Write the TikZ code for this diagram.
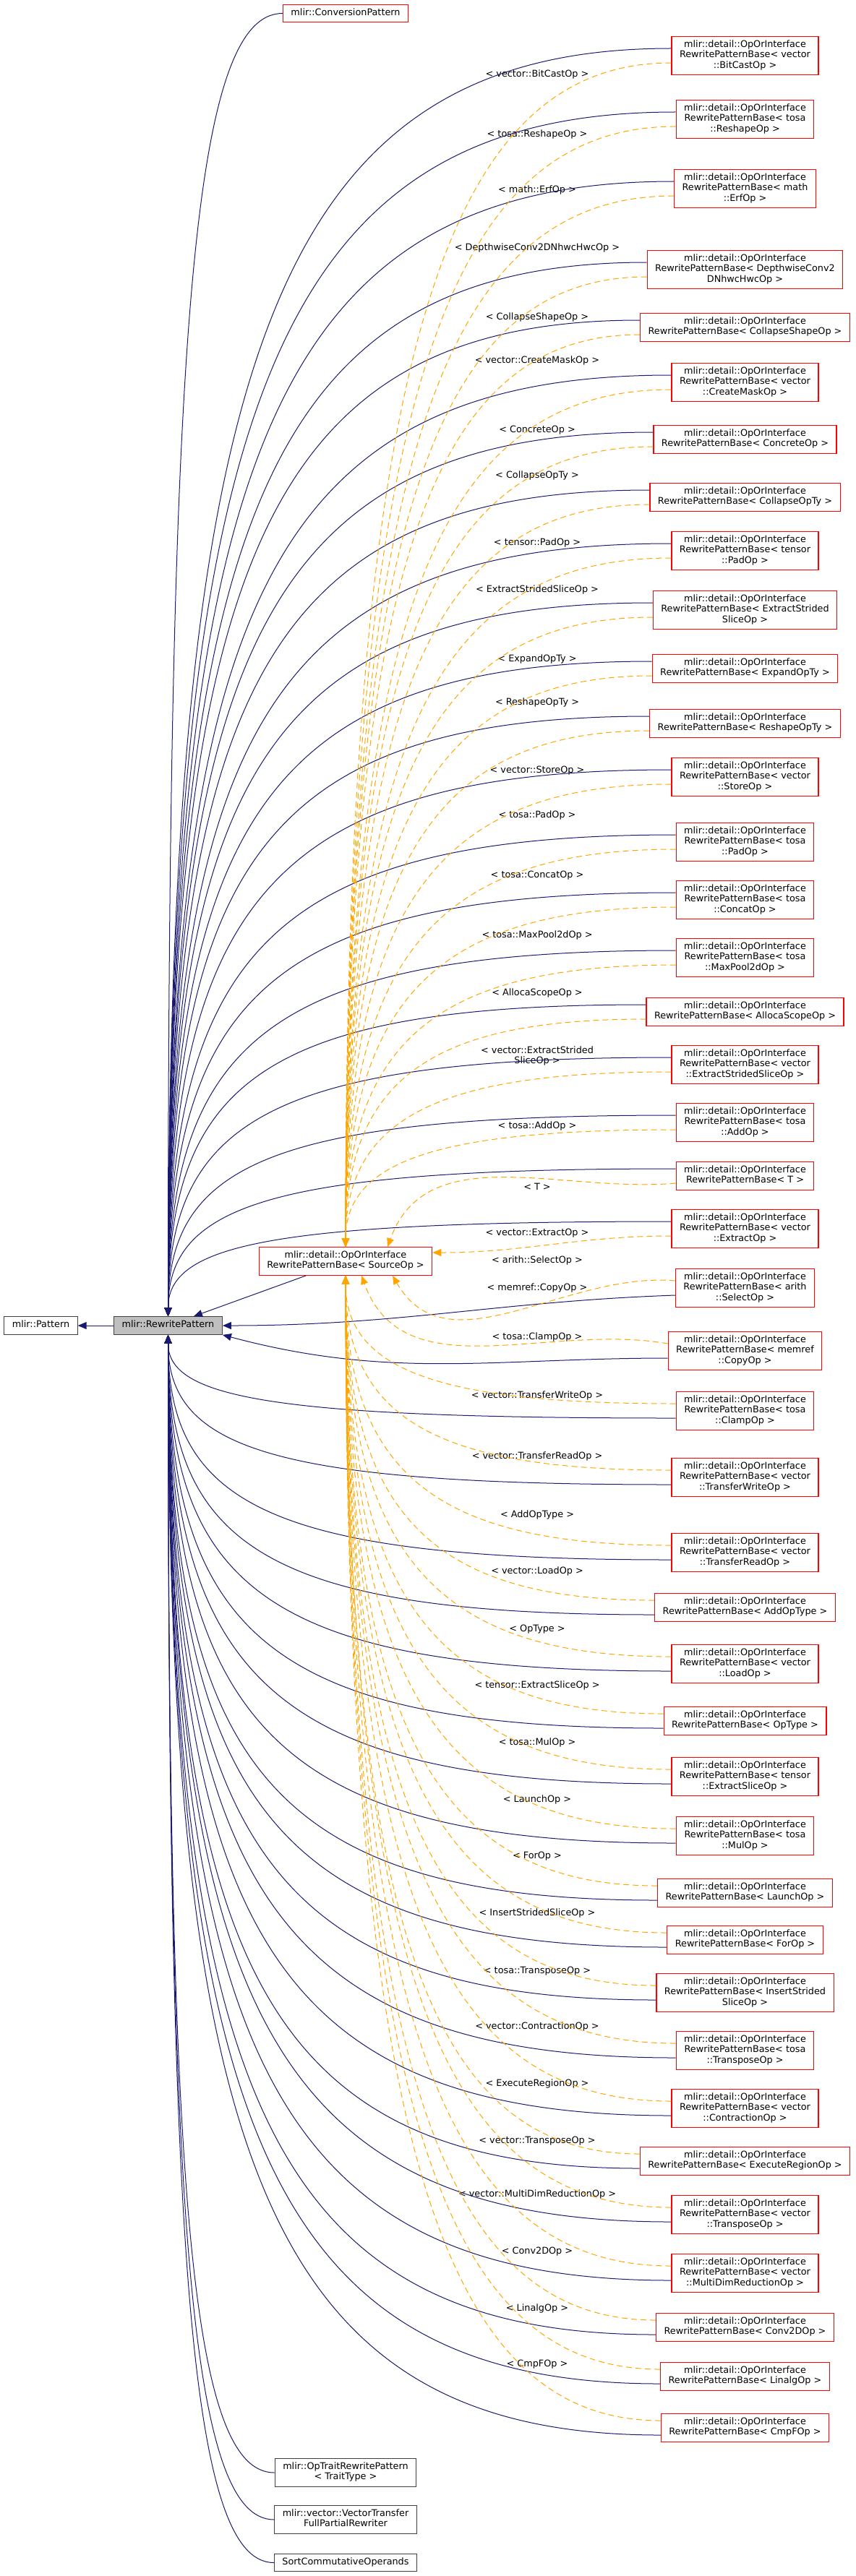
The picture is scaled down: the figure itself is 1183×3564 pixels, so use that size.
\documentclass[tikz,border=0pt]{standalone}
\usepackage{fontspec}
\setmainfont{DejaVu Sans}
\usetikzlibrary{calc, arrows.meta, positioning}

\definecolor{edgeblue}{HTML}{191970}
\definecolor{edgeorange}{HTML}{FFA500}
\definecolor{boxred}{HTML}{FF0000}
\definecolor{boxgray}{HTML}{404040}
\definecolor{basefill}{HTML}{BFBFBF}

\tikzset{
  every node/.style={font=\fontsize{12.8}{14.5}\selectfont},
  clsbox/.style={draw=boxgray, line width=1.2pt, fill=white, align=center,
    inner xsep=11pt, inner ysep=5pt,
    execute at begin node=\strut, execute at end node=\strut},
  tmplbox/.style={clsbox, draw=boxred},
  basebox/.style={clsbox, fill=basefill},
  edgelbl/.style={align=center, inner sep=1pt},
  inh/.style={color=edgeblue, line width=1pt, -{Triangle[length=12pt,width=10pt]}},
  inst/.style={color=edgeorange, line width=1pt, dash pattern=on 8pt off 5pt,
    -{Triangle[length=12pt,width=10pt]}},
}

\begin{document}
\begin{tikzpicture}[x=1pt,y=1pt]
    % Define dimensions
    \def\colx{1030.5}
    \def\lblx{743}
    \def\midx{478}
    \useasboundingbox (0,0) rectangle (1183,-3564);

    % Base classes on the left
    \node[clsbox] (pattern) at (56.5,-1834) {mlir::Pattern};
    \node[basebox] (rp) at (232.5,-1834) {mlir::RewritePattern};
    \node[tmplbox] (src) at (\midx,-1745) {mlir::detail::OpOrInterface\\RewritePatternBase< SourceOp >};
    \node[tmplbox] (conv) at (\midx,-18.5) {mlir::ConversionPattern};
    \node[clsbox] (traitpat) at (\midx,-3421) {mlir::OpTraitRewritePattern\\< TraitType >};
    \node[clsbox] (fullpartial) at (\midx,-3486) {mlir::vector::VectorTransfer\\FullPartialRewriter};
    \node[clsbox] (sortops) at (\midx,-3545.5) {SortCommutativeOperands};

    % Template instances on the right, with their edge labels
    \foreach \nm/\yy/\ly/\bt/\lt in {
        bitcast/77/103/{vector\\::BitCastOp}/{vector::BitCastOp},
        tosareshape/165/186/{tosa\\::ReshapeOp}/{tosa::ReshapeOp},
        erf/261/263/{math\\::ErfOp}/{math::ErfOp},
        dwconv/373/343/{DepthwiseConv2\\DNhwcHwcOp}/{DepthwiseConv2DNhwcHwcOp},
        collapseshape/453/439/{CollapseShapeOp}/{CollapseShapeOp},
        createmask/529/499/{vector\\::CreateMaskOp}/{vector::CreateMaskOp},
        concrete/608/595/{ConcreteOp}/{ConcreteOp},
        collapseopty/688/658/{CollapseOpTy}/{CollapseOpTy},
        tensorpad/762/751/{tensor\\::PadOp}/{tensor::PadOp},
        extractstrided/844/816/{ExtractStrided\\SliceOp}/{ExtractStridedSliceOp},
        expandopty/925/912/{ExpandOpTy}/{ExpandOpTy},
        reshapeopty/1001/972/{ReshapeOpTy}/{ReshapeOpTy},
        vstore/1075/1066/{vector\\::StoreOp}/{vector::StoreOp},
        tosapad/1165/1128/{tosa\\::PadOp}/{tosa::PadOp},
        tosaconcat/1245/1211/{tosa\\::ConcatOp}/{tosa::ConcatOp},
        maxpool/1325/1294/{tosa\\::MaxPool2dOp}/{tosa::MaxPool2dOp},
        allocascope/1400/1374/{AllocaScopeOp}/{AllocaScopeOp},
        vextractstrided/1473/1461/{vector\\::ExtractStridedSliceOp}/{vector::ExtractStrided\\SliceOp},
        tosaadd/1553/1558/{tosa\\::AddOp}/{tosa::AddOp},
        tmplt/1627/1642/{T}/{T},
        vextract/1700/1706/{vector\\::ExtractOp}/{vector::ExtractOp},
        select/1782/1744/{arith\\::SelectOp}/{arith::SelectOp},
        copy/1869/1782/{memref\\::CopyOp}/{memref::CopyOp},
        clamp/1952/1850/{tosa\\::ClampOp}/{tosa::ClampOp},
        transferwrite/2044/1931/{vector\\::TransferWriteOp}/{vector::TransferWriteOp},
        transferread/2148/2015/{vector\\::TransferReadOp}/{vector::TransferReadOp},
        addoptype/2224/2096/{AddOpType}/{AddOpType},
        vload/2302/2174/{vector\\::LoadOp}/{vector::LoadOp},
        optype/2381/2254/{OpType}/{OpType},
        extractslice/2458/2332/{tensor\\::ExtractSliceOp}/{tensor::ExtractSliceOp},
        tosamul/2540/2411/{tosa\\::MulOp}/{tosa::MulOp},
        launch/2619/2490/{LaunchOp}/{LaunchOp},
        forop/2684/2568/{ForOp}/{ForOp},
        insertstrided/2757/2647/{InsertStrided\\SliceOp}/{InsertStridedSliceOp},
        tosatranspose/2837/2727/{tosa\\::TransposeOp}/{tosa::TransposeOp},
        contraction/2917/2804/{vector\\::ContractionOp}/{vector::ContractionOp},
        executeregion/2990/2883/{ExecuteRegionOp}/{ExecuteRegionOp},
        vtranspose/3064/2962/{vector\\::TransposeOp}/{vector::TransposeOp},
        multidim/3145/3036/{vector\\::MultiDimReductionOp}/{vector::MultiDimReductionOp},
        conv2d/3220/3115/{Conv2DOp}/{Conv2DOp},
        linalg/3288/3194/{LinalgOp}/{LinalgOp},
        cmpf/3359/3271/{CmpFOp}/{CmpFOp}}
    {
        \node[tmplbox] (\nm) at (\colx,-\yy) {mlir::detail::OpOrInterface\\RewritePatternBase< \bt{} >};
        \node[edgelbl] (l\nm) at (\lblx,-\ly) {< \lt{} >};
    }

    % Inheritance edges (solid)
    \draw[inh] (rp) -- (pattern);
    \draw[inh] (src) -- (rp);
    \draw[inh] let \p1=(conv.west), \p2=(rp.north) in
        (\p1) .. controls (0.2*\x1+0.8*\x2,\y1) and (\x2,0.25*\y2+0.75*\y1) .. (\p2);
    \foreach \nm in {bitcast,tosareshape,erf,dwconv,collapseshape,createmask,concrete,
        collapseopty,tensorpad,extractstrided,expandopty,reshapeopty,vstore,tosapad,
        tosaconcat,maxpool,allocascope,vextractstrided,tosaadd,tmplt,vextract}
        \draw[inh] let \p1=($(\nm.west)+(0,10)$), \p2=(rp.north) in
            (\p1) .. controls (0.2*\x1+0.8*\x2,\y1) and (\x2,0.25*\y2+0.75*\y1) .. (\p2);
    \draw[inh] ($(select.west)+(0,-10)$) to[out=182,in=0] (rp.east);
    \draw[inh] ($(copy.west)+(0,-10)$) to[out=180,in=-15] (rp.south east);
    \foreach \nm in {clamp,transferwrite,transferread,addoptype,vload,optype,extractslice,
        tosamul,launch,forop,insertstrided,tosatranspose,contraction,executeregion,
        vtranspose,multidim,conv2d,linalg,cmpf}
        \draw[inh] let \p1=($(\nm.west)+(0,-10)$), \p2=(rp.south) in
            (\p1) .. controls (0.2*\x1+0.8*\x2,\y1) and (\x2,0.25*\y2+0.75*\y1) .. (\p2);
    \foreach \nm in {traitpat,fullpartial,sortops}
        \draw[inh] let \p1=(\nm.west), \p2=(rp.south) in
            (\p1) .. controls (0.2*\x1+0.8*\x2,\y1) and (\x2,0.25*\y2+0.75*\y1) .. (\p2);

    % Template instantiation edges (dashed)
    \foreach \nm in {bitcast,tosareshape,erf,dwconv,collapseshape,createmask,concrete,
        collapseopty,tensorpad,extractstrided,expandopty,reshapeopty,vstore,tosapad,
        tosaconcat,maxpool,allocascope,vextractstrided,tosaadd}
        \draw[inst] let \p1=($(\nm.west)+(0,-10)$), \p2=(src.north) in
            (\p1) .. controls (0.3*\x1+0.7*\x2,\y1) and (\x2,0.25*\y2+0.75*\y1) .. (\p2);
    \draw[inst] ($(tmplt.west)+(0,-10)$) to[out=185,in=70] ($(src.north)+(58,0)$);
    \draw[inst] ($(vextract.west)+(0,-10)$) to[out=180,in=0] ($(src.east)+(0,12)$);
    \draw[inst] ($(select.west)+(0,10)$) to[out=175,in=-60] ($(src.south)+(65,0)$);
    \draw[inst] ($(copy.west)+(0,10)$) to[out=170,in=-70] ($(src.south)+(22,0)$);
    \foreach \nm in {clamp,transferwrite,transferread,addoptype,vload,optype,extractslice,
        tosamul,launch,forop,insertstrided,tosatranspose,contraction,executeregion,
        vtranspose,multidim,conv2d,linalg,cmpf}
        \draw[inst] let \p1=($(\nm.west)+(0,10)$), \p2=(src.south) in
            (\p1) .. controls (0.3*\x1+0.7*\x2,\y1) and (\x2,0.25*\y2+0.75*\y1) .. (\p2);
\end{tikzpicture}
\end{document}
